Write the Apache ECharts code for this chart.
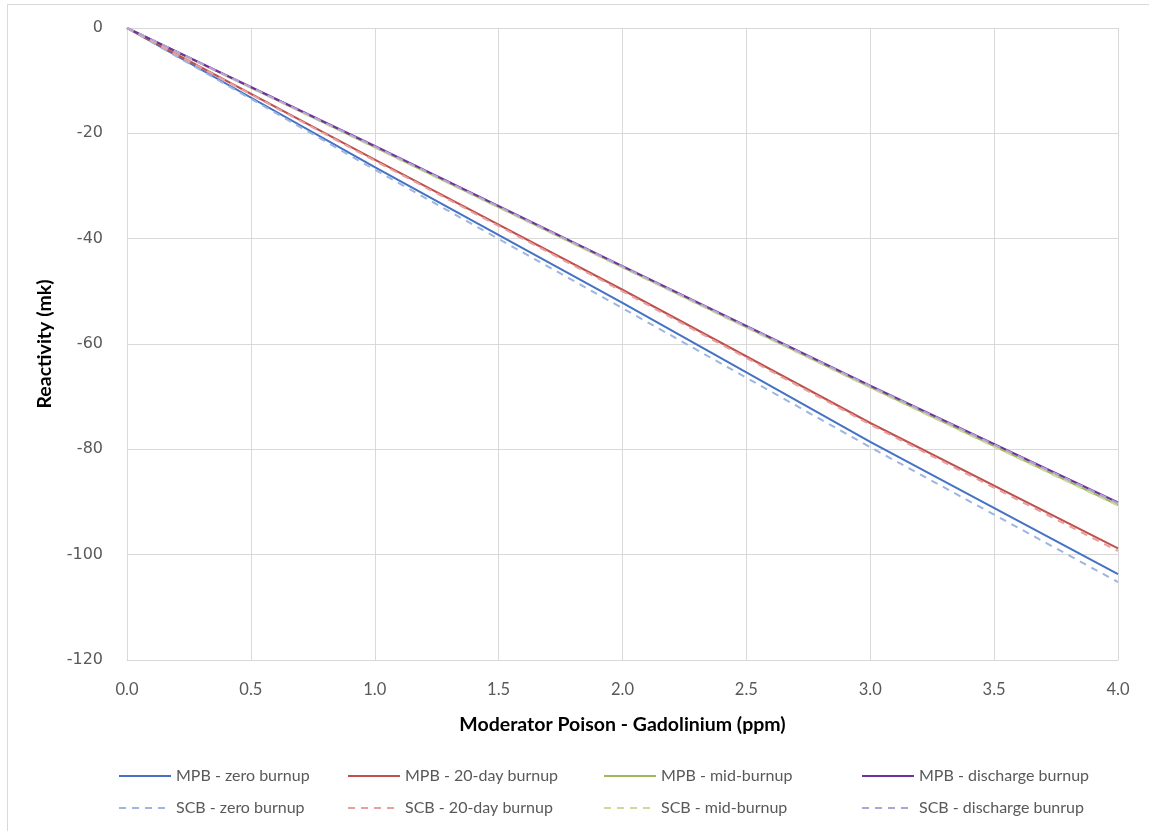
<!DOCTYPE html>
<html lang="en">
<head>
    <meta charset="UTF-8">
    <script src="https://cdn.jsdelivr.net/npm/echarts@6.0.0/dist/echarts.min.js"></script>
    <style>
        html, body { margin: 0; padding: 0; background: #fff; }
    </style>
</head>
<body>
<div id="poisonChart" style="width:1149px;height:831px;"></div>
<script type="text/javascript">

    // gadolinium concentration (ppm)
    var gadolinium = [0, 1.0, 2.0, 3.0, 4.0];

    // reactivity (mk)
    var mpbZero      = [0, -26.4, -52.2, -78.6, -103.7];
    var mpb20Day     = [0, -25.0, -49.7, -75.0, -98.8];
    var mpbMid       = [0, -22.6, -45.4, -68.2, -90.6];
    var mpbDischarge = [0, -22.4, -45.2, -67.9, -90.1];
    var scbZero      = [0, -26.9, -53.2, -79.6, -105.2];
    var scb20Day     = [0, -25.2, -50.0, -75.3, -99.3];
    var scbMid       = [0, -22.7, -45.5, -68.3, -90.7];
    var scbDischarge = [0, -22.5, -45.3, -68.0, -90.2];

    var seriesNames = [
        "MPB - zero burnup", "MPB - 20-day burnup", "MPB - mid-burnup", "MPB - discharge burnup",
        "SCB - zero burnup", "SCB - 20-day burnup", "SCB - mid-burnup", "SCB - discharge bunrup"
    ];
    var seriesValues = [mpbZero, mpb20Day, mpbMid, mpbDischarge, scbZero, scb20Day, scbMid, scbDischarge];
    var seriesColors = ["#4472c4", "#c0504d", "#9bbb59", "#7030a0",
                        "#9db5e0", "#e6a09e", "#c9dc9c", "#b3a2d6"];

    var chart = echarts.init(document.getElementById("poisonChart"));

    function pairs(values) {
        return values.map((v, i) => [gadolinium[i], v]);
    }

    var series = seriesNames.map((name, i) => ({
        name: name,
        type: "line",
        data: pairs(seriesValues[i]),
        showSymbol: false,
        symbol: "none",
        animation: false,
        lineStyle: {
            color: seriesColors[i],
            width: 2,
            type: i < 4 ? "solid" : [7, 6]
        },
        itemStyle: { color: seriesColors[i] },
        z: i < 4 ? 2 : 3
    }));

    // one legend per entry so the columns line up like the original
    var colX = [113, 342, 598, 856];
    var rowY = [763, 795];
    var legends = seriesNames.map((name, i) => ({
        data: [name],
        left: colX[i % 4],
        top: rowY[Math.floor(i / 4)],
        itemWidth: 52,
        itemHeight: 14,
        itemGap: 4,
        itemStyle: { opacity: 0 },
        textStyle: { fontFamily: "Lato", fontSize: 16, color: "#595959" },
        selectedMode: false
    }));

    var option = {
        backgroundColor: "#ffffff",
        animation: false,
        grid: { left: 127, right: 31, top: 28, bottom: 171, containLabel: false },
        legend: legends,
        xAxis: {
            type: "value",
            min: 0,
            max: 4,
            interval: 0.5,
            name: "Moderator Poison - Gadolinium (ppm)",
            nameLocation: "middle",
            nameGap: 55,
            nameTextStyle: { fontFamily: "Lato", fontWeight: "bold", fontSize: 19.5, color: "#000" },
            axisLine: { show: true, onZero: false, lineStyle: { color: "#d9d9d9", width: 1 } },
            axisTick: { show: false },
            axisLabel: {
                margin: 21,
                fontFamily: "Lato",
                fontSize: 16.5,
                color: "#595959",
                formatter: v => v.toFixed(1)
            },
            splitLine: { show: true, lineStyle: { color: "#d9d9d9", width: 1 } }
        },
        yAxis: {
            type: "value",
            min: -120,
            max: 0,
            interval: 20,
            name: "Reactivity (mk)",
            nameLocation: "middle",
            nameGap: 72,
            nameRotate: 90,
            nameTextStyle: { fontFamily: "Lato", fontWeight: "bold", fontSize: 19.5, color: "#000" },
            axisLine: { show: true, lineStyle: { color: "#d9d9d9", width: 1 } },
            axisTick: { show: false },
            axisLabel: {
                margin: 24,
                fontFamily: "DejaVu Sans",
                fontSize: 16,
                color: "#595959"
            },
            splitLine: { show: true, lineStyle: { color: "#d9d9d9", width: 1 } }
        },
        graphic: [
            { type: "line", shape: { x1: 7.5, y1: 4.5, x2: 1149, y2: 4.5 }, style: { stroke: "#d9d9d9", lineWidth: 1 } },
            { type: "line", shape: { x1: 7.5, y1: 4.5, x2: 7.5, y2: 831 }, style: { stroke: "#d9d9d9", lineWidth: 1 } }
        ],
        series: series
    };

    chart.setOption(option);
</script>
</body>
</html>
